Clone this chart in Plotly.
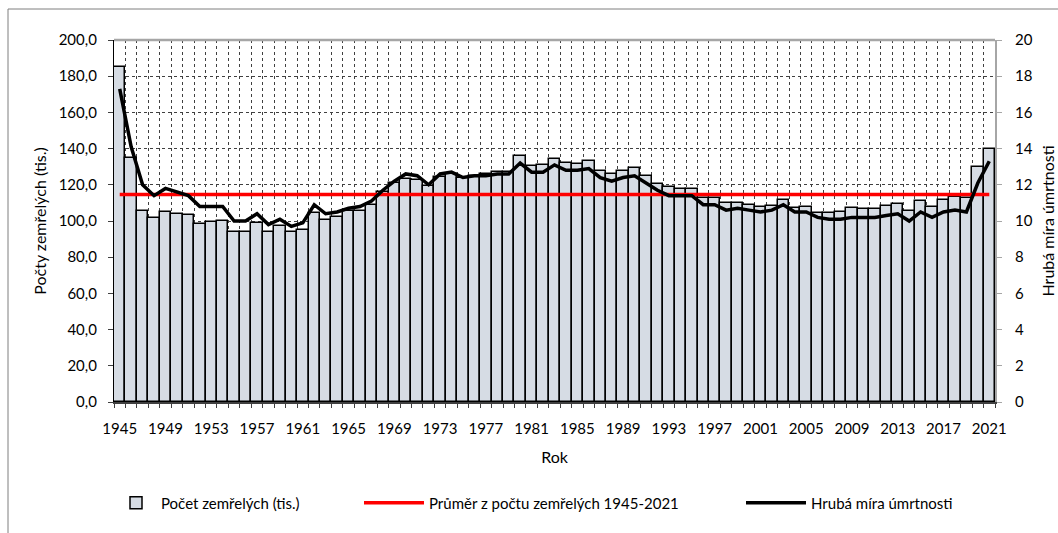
import plotly.graph_objects as go

years = list(range(1945, 2022))
deaths = [185.0, 135.0, 105.6, 101.9, 105.0, 103.9, 103.1, 98.3, 99.3, 99.9,
          93.9, 93.9, 98.7, 93.7, 97.4, 94.2, 95.1, 104.3, 100.3, 102.0,
          105.3, 105.5, 109.0, 115.8, 120.9, 123.0, 122.5, 119.3, 124.4, 126.1,
          123.8, 124.6, 125.9, 126.9, 127.0, 135.9, 130.3, 130.8, 134.5, 132.3,
          131.7, 132.9, 127.6, 126.0, 127.8, 129.4, 124.8, 120.4, 118.6, 117.5,
          117.9, 112.9, 112.8, 109.7, 109.8, 109.1, 107.9, 108.1, 111.5, 107.4,
          108.0, 104.6, 104.6, 105.0, 107.4, 106.9, 106.9, 108.3, 109.4, 105.8,
          111.3, 107.8, 111.5, 113.0, 112.5, 129.8, 139.9]
rate = [17.3, 14.1, 12.0, 11.4, 11.8, 11.6, 11.4, 10.8, 10.8, 10.8,
        10.0, 10.0, 10.4, 9.8, 10.1, 9.7, 9.9, 10.9, 10.4, 10.5,
        10.7, 10.8, 11.1, 11.7, 12.2, 12.6, 12.5, 12.0, 12.6, 12.7,
        12.4, 12.5, 12.5, 12.6, 12.6, 13.2, 12.7, 12.7, 13.1, 12.8,
        12.8, 12.9, 12.4, 12.2, 12.4, 12.5, 12.1, 11.7, 11.4, 11.4,
        11.4, 10.9, 10.9, 10.6, 10.7, 10.6, 10.5, 10.6, 10.9, 10.5,
        10.5, 10.2, 10.1, 10.1, 10.2, 10.2, 10.2, 10.3, 10.4, 10.0,
        10.5, 10.2, 10.5, 10.6, 10.5, 12.1, 13.3]
mean_value = 114.7
mean_line = [mean_value] * len(years)
tick_years = list(range(1945, 2022, 4))

names = ["Počet zemřelých (tis.)", "Průměr z počtu zemřelých 1945-2021", "Hrubá míra úmrtnosti"]

FONT = "Lato, 'Open Sans', sans-serif"
W, H = 1058, 533
L, R, T, B = 114, 995, 40, 402


def px(x):
    return (x - L) / (R - L)


def py(y):
    return (B - y) / (B - T)


fig = go.Figure()
fig.add_trace(go.Bar(
    x=years, y=deaths, name=names[0], width=1.0,
    marker=dict(color="#d6dce4", line=dict(color="#000000", width=1.5)),
    legend="legend",
))
fig.add_trace(go.Scatter(
    x=years, y=mean_line, name=names[1], mode="lines",
    line=dict(color="#ff0000", width=3.5), legend="legend2",
))
fig.add_trace(go.Scatter(
    x=years, y=rate, name=names[2], mode="lines", yaxis="y2",
    line=dict(color="#000000", width=3.5), legend="legend3",
))

tick_font = dict(family=FONT, size=15, color="#000000")
title_font = dict(family=FONT, size=16, color="#000000")

fig.update_layout(
    width=W, height=H,
    margin=dict(l=L, r=W - R, t=T, b=H - B, autoexpand=False),
    paper_bgcolor="white", plot_bgcolor="white",
    separators=", ",
    font=dict(family=FONT, size=15, color="#000000"),
    bargap=0,
    xaxis=dict(
        range=[1944.5, 2021.5], tickmode="array", tickvals=tick_years,
        ticktext=[str(y) for y in tick_years], tickfont=tick_font,
        showgrid=False, ticks="", ticklabelstandoff=12,
        showline=True, linecolor="#404040", linewidth=1.5,
        minor=dict(tick0=1944.5, dtick=1, showgrid=True, gridcolor="#404040",
                   griddash="dot", gridwidth=1, ticks="outside", ticklen=4,
                   tickcolor="#404040", tickwidth=1),
        title=dict(text="Rok", font=title_font, standoff=16),
        zeroline=False,
    ),
    yaxis=dict(
        range=[0, 200], dtick=20, tick0=0, tickformat=".1f", tickfont=tick_font,
        showgrid=True, gridcolor="#404040", griddash="dot", gridwidth=1,
        ticks="outside", ticklen=5, tickcolor="#404040", ticklabelstandoff=8,
        showline=True, linecolor="#000000", linewidth=1.2, zeroline=False,
        title=dict(text="Počty zemřelých (tis.)", font=title_font, standoff=8),
    ),
    yaxis2=dict(
        range=[0, 20], dtick=2, tick0=0, tickformat="d", tickfont=tick_font,
        overlaying="y", side="right", showgrid=False,
        ticks="outside", ticklen=5, tickcolor="#a6a6a6", ticklabelstandoff=10,
        showline=True, linecolor="#a6a6a6", linewidth=2, zeroline=False,
        title=dict(text="Hrubá míra úmrtnosti", font=title_font, standoff=11),
    ),
    legend=dict(orientation="h", x=px(111), y=py(503), xanchor="left", yanchor="middle",
                font=dict(family=FONT, size=15), bgcolor="rgba(0,0,0,0)", itemwidth=40),
    legend2=dict(orientation="h", x=px(359), y=py(503), xanchor="left", yanchor="middle",
                 font=dict(family=FONT, size=15), bgcolor="rgba(0,0,0,0)", itemwidth=60),
    legend3=dict(orientation="h", x=px(741), y=py(503), xanchor="left", yanchor="middle",
                 font=dict(family=FONT, size=15), bgcolor="rgba(0,0,0,0)", itemwidth=60),
    shapes=[
        dict(type="line", xref="paper", yref="paper", x0=0, x1=1, y0=1, y1=1,
             line=dict(color="#a6a6a6", width=2.5)),
        dict(type="line", xref="paper", yref="paper", x0=px(8), x1=px(1070), y0=py(9), y1=py(9),
             line=dict(color="#7f7f7f", width=1)),
        dict(type="line", xref="paper", yref="paper", x0=px(8), x1=px(8), y0=py(9), y1=py(545),
             line=dict(color="#7f7f7f", width=1)),
    ],
    showlegend=True,
)

fig.write_html("out.html", config={"displayModeBar": False},
               post_script="document.body.style.margin='0';")
